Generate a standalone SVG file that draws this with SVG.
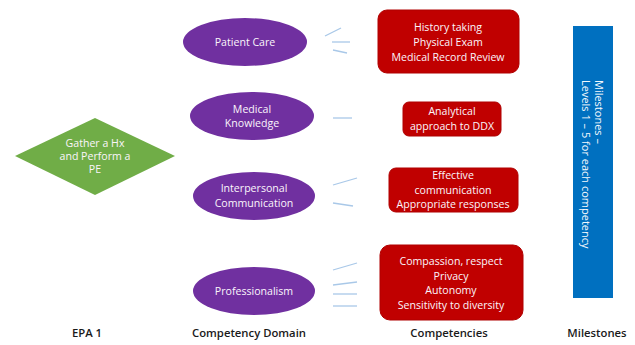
<svg xmlns="http://www.w3.org/2000/svg" width="635" height="345" viewBox="0 0 635 345">
<style>
.t{font-family:"Open Sans","Liberation Sans",sans-serif;font-size:10.6px;fill:#fbf5fb;text-anchor:middle;}
.v{font-family:"Open Sans","Liberation Sans",sans-serif;font-size:11px;fill:#f5f9fd;text-anchor:start;}
.lbl{font-family:"Open Sans","Liberation Sans",sans-serif;font-size:11.3px;font-weight:600;fill:#1a1a1a;text-anchor:middle;}
.dom{fill:#7030a0;}
.comp{fill:#c00000;stroke:#b00000;stroke-width:1;}
.c{stroke:#a9c8e8;stroke-width:1.3;fill:none;}
</style>
<rect width="635" height="345" fill="#ffffff"/>
<g id="epa">
<polygon points="15,156 95,118 175,156 95,195" fill="#70ad47"/>
<text class="t" x="95" y="147">Gather a Hx</text>
<text class="t" x="95" y="160">and Perform a</text>
<text class="t" x="95" y="173">PE</text>
</g>
<g id="patient-care">
<ellipse class="dom" cx="245" cy="42" rx="62" ry="24"/>
<text class="t" x="245" y="46">Patient Care</text>
</g>
<g id="medical-knowledge">
<ellipse class="dom" cx="252" cy="116" rx="62" ry="24"/>
<text class="t" x="252" y="113">Medical</text>
<text class="t" x="252" y="127">Knowledge</text>
</g>
<g id="interpersonal">
<ellipse class="dom" cx="254" cy="196" rx="61" ry="24"/>
<text class="t" x="254" y="192">Interpersonal</text>
<text class="t" x="254" y="207">Communication</text>
</g>
<g id="professionalism">
<ellipse class="dom" cx="254" cy="291" rx="61" ry="24"/>
<text class="t" x="254" y="295">Professionalism</text>
</g>
<g id="pc-competencies">
<rect class="comp" x="378" y="10" width="141" height="63" rx="9"/>
<text class="t" x="448" y="31">History taking</text>
<text class="t" x="448" y="46">Physical Exam</text>
<text class="t" x="448" y="61">Medical Record Review</text>
</g>
<g id="mk-competencies">
<rect class="comp" x="403" y="102" width="98" height="34" rx="6"/>
<text class="t" x="452" y="115">Analytical</text>
<text class="t" x="452" y="130">approach to DDX</text>
</g>
<g id="ic-competencies">
<rect class="comp" x="389" y="168" width="129" height="44" rx="7"/>
<text class="t" x="453" y="179">Effective</text>
<text class="t" x="453" y="194">communication</text>
<text class="t" x="453" y="208">Appropriate responses</text>
</g>
<g id="pr-competencies">
<rect class="comp" x="380" y="245" width="143" height="75" rx="10"/>
<text class="t" x="451" y="265">Compassion, respect</text>
<text class="t" x="451" y="280">Privacy</text>
<text class="t" x="451" y="294">Autonomy</text>
<text class="t" x="451" y="309">Sensitivity to diversity</text>
</g>
<g id="milestones">
<rect x="573" y="26" width="40" height="272" fill="#0070c0"/>
<text class="v" transform="translate(595,80) rotate(90)">Milestones –</text>
<text class="v" transform="translate(582,80) rotate(90)">Levels 1 – 5 for each competency</text>
</g>
<g id="connectors">
<line class="c" x1="325" y1="36" x2="341" y2="28"/>
<line class="c" x1="332" y1="42" x2="350" y2="42"/>
<line class="c" x1="333" y1="50" x2="347" y2="53"/>
<line class="c" x1="333" y1="118" x2="352" y2="118"/>
<line class="c" x1="333" y1="185" x2="357" y2="178"/>
<line class="c" x1="333" y1="203" x2="353" y2="206"/>
<line class="c" x1="333" y1="270" x2="357" y2="263"/>
<line class="c" x1="333" y1="285" x2="357" y2="282"/>
<line class="c" x1="333" y1="294" x2="357" y2="294"/>
<line class="c" x1="333" y1="306" x2="357" y2="306"/>
</g>
<g id="labels">
<text class="lbl" x="87" y="337">EPA 1</text>
<text class="lbl" x="249" y="337">Competency Domain</text>
<text class="lbl" x="449" y="337">Competencies</text>
<text class="lbl" x="597" y="337">Milestones</text>
</g>
</svg>
